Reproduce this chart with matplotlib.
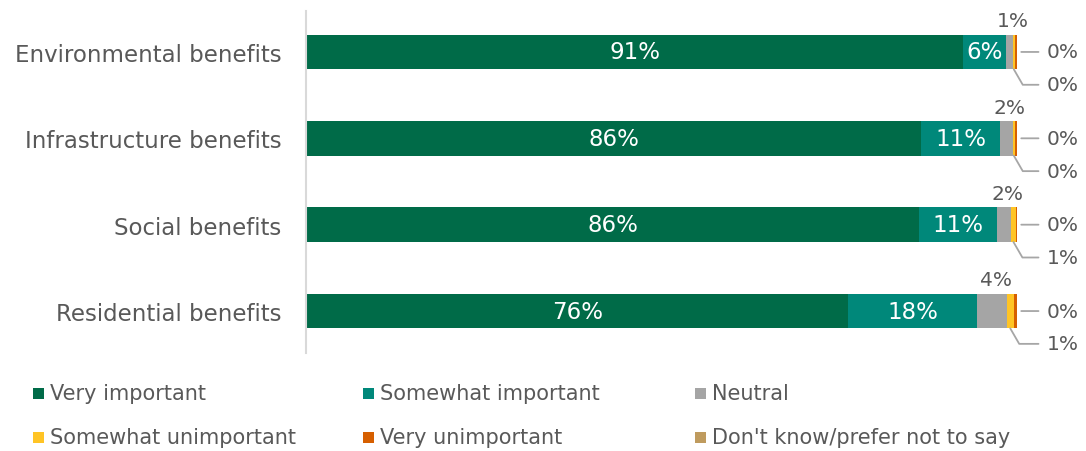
import matplotlib
matplotlib.use("Agg")
import matplotlib.pyplot as plt
from matplotlib.patches import Rectangle
import numpy as np

categories = ["Environmental benefits", "Infrastructure benefits", "Social benefits", "Residential benefits"]
series = ["Very important", "Somewhat important", "Neutral",
          "Somewhat unimportant", "Very unimportant", "Don't know/prefer not to say"]
very_important = [91.4, 86.2, 85.8, 76.0]
somewhat_important = [6.0, 11.0, 11.0, 18.2]
neutral = [0.9, 1.8, 2.0, 4.1]
somewhat_unimportant = [0.3, 0.3, 0.6, 1.0]
very_unimportant = [0.3, 0.3, 0.2, 0.45]
dont_know = [0.0, 0.0, 0.0, 0.0]
colors = ["#006B48", "#00887A", "#A5A5A5", "#FFC425", "#D65F00", "#BF9B5E"]

plt.rcParams['font.family'] = ['DejaVu Sans']
TXT = "#595959"

data = np.array([very_important, somewhat_important, neutral,
                 somewhat_unimportant, very_unimportant, dont_know])
totals = data.sum(axis=0)
norm = data / totals * 100  # 100% stacked

fig = plt.figure(figsize=(10.86, 4.52), dpi=100)
W, H = 1086, 452
ax = fig.add_axes([306.5 / W, 1 - 353.5 / H, (1017 - 306.5) / W, (353.5 - 11.5) / H])
y = np.arange(len(categories))
left = np.zeros(len(categories))
for i, s in enumerate(series):
    ax.barh(y, norm[i], left=left, height=0.4, color=colors[i], label=s,
            edgecolor="none")
    for j in range(len(categories)):
        if i <= 1:
            ax.text(left[j] + norm[i][j] / 2, y[j], f"{data[i][j]:.0f}%",
                    ha="center", va="center", color="white", fontsize=16.5)
    left = left + norm[i]

# small labels
for j in range(len(categories)):
    gstart = norm[0][j] + norm[1][j]
    ax.text(gstart + norm[2][j] / 2 + 0.5, y[j] - 0.25, f"{data[2][j]:.0f}%",
            ha="center", va="bottom", color=TXT, fontsize=14.5)
    end = 100.0
    # middle label: very unimportant
    ax.annotate(f"{data[4][j]:.0f}%", xy=(end + 0.6, y[j]), xytext=(end + 4.2, y[j]),
                ha="left", va="center", color=TXT, fontsize=14.5,
                annotation_clip=False,
                arrowprops=dict(arrowstyle="-", color="#A6A6A6", lw=1.3,
                                shrinkA=4, shrinkB=0))
    # bottom label: somewhat unimportant
    ystart = gstart + norm[2][j] + norm[3][j] / 2
    ax.annotate(f"{data[3][j]:.0f}%", xy=(ystart, y[j] + 0.2), xytext=(end + 4.2, y[j] + 0.38),
                ha="left", va="center", color=TXT, fontsize=14.5,
                annotation_clip=False,
                arrowprops=dict(arrowstyle="-", color="#A6A6A6", lw=1.3,
                                shrinkA=4, shrinkB=0,
                                connectionstyle="angle,angleA=0,angleB=-60,rad=0"))

ax.set_xlim(0, 100)
ax.set_ylim(3.48, -0.48)
ax.set_yticks(y)
ax.set_yticklabels(categories)
ax.tick_params(axis="y", length=0, pad=18, labelsize=16.5, labelcolor=TXT)
ax.set_xticks([])
for sp in ["top", "right", "bottom"]:
    ax.spines[sp].set_visible(False)
ax.spines["left"].set_color("#D9D9D9")
ax.spines["left"].set_linewidth(1.5)

# legend laid out row by row, 3 columns
col_x = [33, 363, 695]
row_y = [394, 438]
for i, s in enumerate(series):
    cx = col_x[i % 3]
    cy = row_y[i // 3]
    fig.patches.append(Rectangle((cx / W, 1 - (cy + 5.5) / H), 11 / W, 11 / H,
                                 transform=fig.transFigure, facecolor=colors[i],
                                 edgecolor="none"))
    fig.text((cx + 17) / W, 1 - cy / H, s, ha="left", va="center",
             color=TXT, fontsize=15)

fig.savefig("out.png", dpi=100)
